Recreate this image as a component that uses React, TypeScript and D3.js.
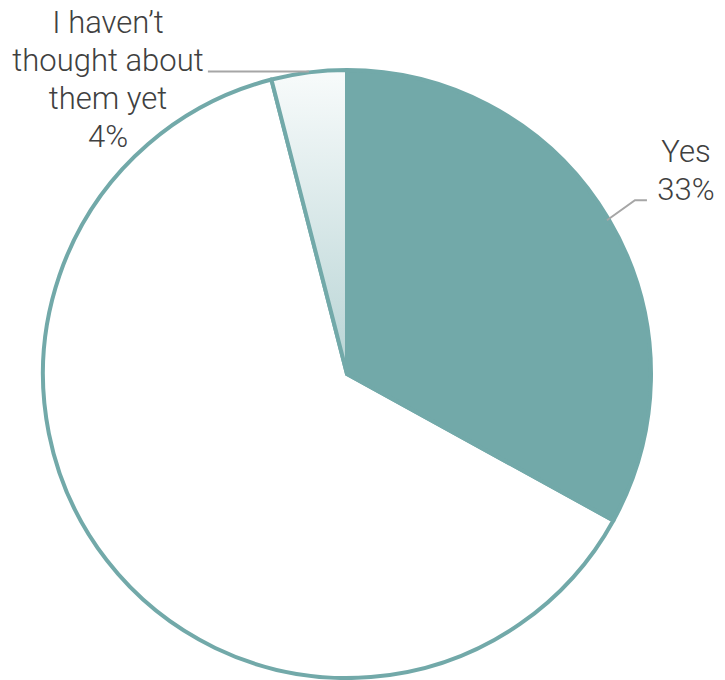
import React from "react";
import * as d3 from "d3";

const categories = ["Yes", "No", "I haven’t thought about them yet"];
const values = [33, 63, 4];
const labelLines = [["Yes", "33%"], [], ["I haven’t", "thought about", "them yet", "4%"]];

const W = 725;
const H = 680;
const cx = 347;
const cy = 374;
const R = 304;
const teal = "#72a9a9";

export default function App() {
  const data = categories.map((c, i) => ({ c, v: values[i], i }));
  const pie = d3.pie<any>().value((d) => d.v).sort(null).startAngle(0).endAngle(2 * Math.PI);
  const arcs = pie(data);
  const arc = d3.arc<any>().innerRadius(0).outerRadius(R);
  const fills = [teal, "#ffffff", "url(#grad4)"];
  const drawOrder = [1, 2, 0];

  const pt = (a: number, r: number) => [Math.sin(a) * r, -Math.cos(a) * r];

  const yesA = (arcs[0].startAngle + arcs[0].endAngle) / 2;
  const [yx, yy] = pt(yesA, R - 2);
  const hvA = (arcs[2].startAngle + arcs[2].endAngle) / 2;
  const [hx, hy] = pt(hvA, R);

  const font = "Roboto, 'Helvetica Neue', Arial, sans-serif";

  return (
    <svg width={W} height={H} style={{ position: "absolute", left: 0, top: 0 }}>
      <defs>
        <linearGradient id="grad4" gradientUnits="userSpaceOnUse" x1="0" y1={-R} x2="0" y2={0}>
          <stop offset="0" stopColor="#f8fbfb" />
          <stop offset="1" stopColor="#b8d4d5" />
        </linearGradient>
      </defs>
      <g transform={`translate(${cx},${cy})`}>
        {drawOrder.map((i) => (
          <path
            key={i}
            d={arc(arcs[i]) as string}
            fill={fills[i]}
            stroke={teal}
            strokeWidth={4}
            strokeLinejoin="round"
          />
        ))}
        <polyline
          points={`${yx},${yy} ${yx + 28},${yy - 20} ${yx + 40},${yy - 20}`}
          fill="none"
          stroke="#a6a6a6"
          strokeWidth={2}
        />
        <polyline
          points={`${hx},${hy - 1} ${hx - 101},${hy - 1}`}
          fill="none"
          stroke="#a6a6a6"
          strokeWidth={2}
        />
      </g>
      <g fontFamily={font} fontWeight={300} fontSize={31} fill="#404040" textAnchor="middle">
        {labelLines[0].map((t, k) => (
          <text key={k} x={686} y={162 + k * 38}>{t}</text>
        ))}
        {labelLines[2].map((t, k) => (
          <text key={k} x={108} y={33 + k * 38}>{t}</text>
        ))}
      </g>
    </svg>
  );
}
